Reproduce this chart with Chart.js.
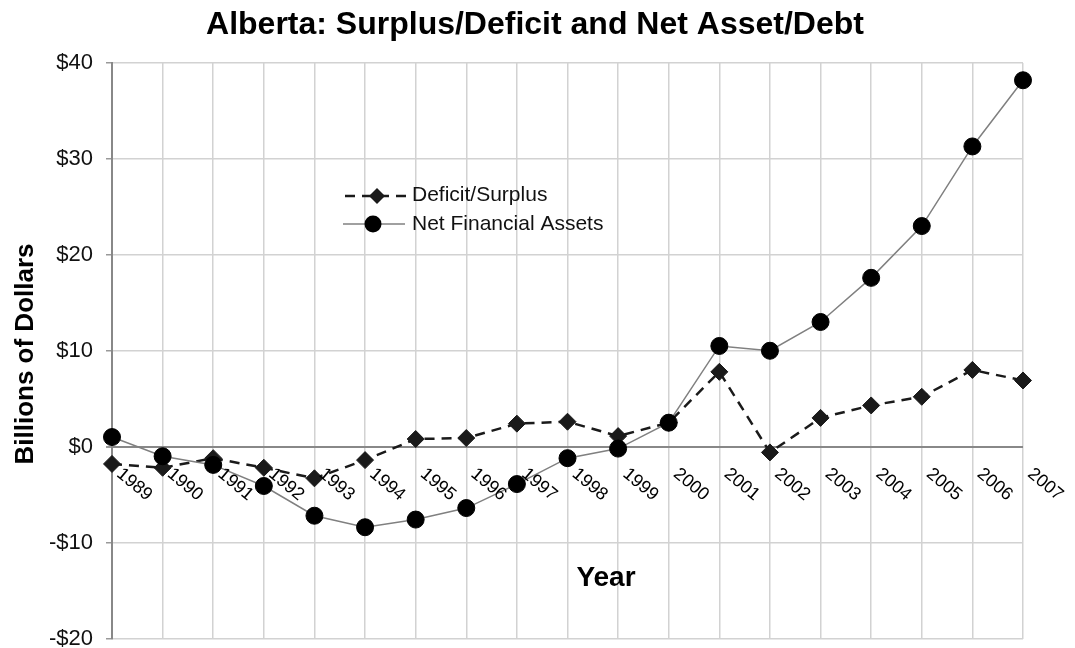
<!DOCTYPE html>
<html><head><meta charset="utf-8">
<script src="https://cdn.jsdelivr.net/npm/chart.js@4/dist/chart.umd.min.js"></script>
<style>html,body{margin:0;padding:0;background:#fff;} #wrap{width:1075px;height:648px;position:relative;}</style>
</head><body><div id="wrap"><canvas id="c"></canvas></div>
<script>
const years = ['1989','1990','1991','1992','1993','1994','1995','1996','1997','1998','1999','2000','2001','2002','2003','2004','2005','2006','2007'];
const deficitSurplus = [-1.8, -2.2, -1.2, -2.2, -3.3, -1.4, 0.8, 0.9, 2.4, 2.6, 1.1, 2.5, 7.8, -0.6, 3.0, 4.3, 5.2, 8.0, 6.9];
const netFinancialAssets = [1.0, -1.0, -1.9, -4.1, -7.2, -8.4, -7.6, -6.4, -3.9, -1.2, -0.2, 2.5, 10.5, 10.0, 13.0, 17.6, 23.0, 31.3, 38.2];
const yTickValues = [-20, -10, 0, 10, 20, 30, 40];
const yTickLabels = ['-$20', '-$10', '$0', '$10', '$20', '$30', '$40'];
const titleText = 'Alberta: Surplus/Deficit and Net Asset/Debt';
const yAxisTitle = 'Billions of Dollars';
const xAxisTitle = 'Year';
const legendLabels = ['Deficit/Surplus', 'Net Financial Assets'];

const FONT = "'Liberation Sans', Arial, Helvetica, sans-serif";

function diamond(ctx, x, y, r, fill) {
  ctx.beginPath();
  ctx.moveTo(x - r, y); ctx.lineTo(x, y - r); ctx.lineTo(x + r, y); ctx.lineTo(x, y + r);
  ctx.closePath(); ctx.fillStyle = fill; ctx.fill();
}

const textPlugin = {
  id: 'texts',
  afterDraw(chart) {
    const ctx = chart.ctx;
    const xs = chart.scales.x, ys = chart.scales.y;
    ctx.save();
    ctx.fillStyle = '#000';
    // title
    ctx.font = 'bold 32px ' + FONT;
    ctx.textAlign = 'center'; ctx.textBaseline = 'alphabetic';
    ctx.fillText(titleText, 535, 34);
    // y axis title
    ctx.save();
    ctx.translate(33, 354);
    ctx.rotate(-Math.PI / 2);
    ctx.font = 'bold 26px ' + FONT;
    ctx.textAlign = 'center';
    ctx.fillText(yAxisTitle, 0, 0);
    ctx.restore();
    // x axis title
    ctx.font = 'bold 28px ' + FONT;
    ctx.textAlign = 'center';
    ctx.fillText(xAxisTitle, 606, 586);
    // rotated category labels at zero line
    const y0 = ys.getPixelForValue(0);
    ctx.font = '18px ' + FONT;
    ctx.textAlign = 'left'; ctx.textBaseline = 'middle';
    ctx.fillStyle = '#000';
    years.forEach((yr, i) => {
      const x = xs.getPixelForValue(i);
      ctx.save();
      ctx.translate(x + 7, y0 + 25);
      ctx.rotate(40 * Math.PI / 180);
      ctx.fillText(yr, 0, 0);
      ctx.restore();
    });
    // legend
    ctx.textBaseline = 'middle';
    ctx.font = '21px ' + FONT;
    // row 1
    ctx.save();
    ctx.strokeStyle = '#1a1a1a'; ctx.lineWidth = 2.5; ctx.setLineDash([10, 7]);
    ctx.beginPath(); ctx.moveTo(345, 196); ctx.lineTo(406, 196); ctx.stroke();
    ctx.restore();
    diamond(ctx, 377, 196, 8, '#1a1a1a');
    ctx.fillStyle = '#111';
    ctx.fillText(legendLabels[0], 412, 195);
    // row 2
    ctx.strokeStyle = '#808080'; ctx.lineWidth = 1.5;
    ctx.beginPath(); ctx.moveTo(343, 224); ctx.lineTo(405, 224); ctx.stroke();
    ctx.beginPath(); ctx.arc(373, 224, 8.5, 0, Math.PI * 2); ctx.fillStyle = '#000'; ctx.fill();
    ctx.fillStyle = '#111';
    ctx.fillText(legendLabels[1], 412, 224);
    ctx.restore();
  }
};

new Chart(document.getElementById('c'), {
  type: 'line',
  data: {
    labels: years,
    datasets: [
      {
        label: legendLabels[1],
        data: netFinancialAssets,
        borderColor: '#808080',
        borderWidth: 1.5,
        pointStyle: 'circle',
        pointRadius: 8.5,
        pointBorderWidth: 1,
        pointBackgroundColor: '#000',
        pointBorderColor: '#000',
        tension: 0,
        fill: false
      },
      {
        label: legendLabels[0],
        data: deficitSurplus,
        borderColor: '#1a1a1a',
        borderWidth: 2.5,
        borderDash: [10, 7],
        pointStyle: 'rectRot',
        pointRadius: 8.5,
        pointBorderWidth: 1,
        pointBackgroundColor: '#1a1a1a',
        pointBorderColor: '#1a1a1a',
        tension: 0,
        fill: false
      }
    ]
  },
  options: {
    responsive: true,
    maintainAspectRatio: false,
    animation: false,
    layout: { padding: { top: 63, right: 52, bottom: 7, left: 0 } },
    plugins: { legend: { display: false }, title: { display: false }, tooltip: { enabled: false } },
    scales: {
      x: {
        type: 'category',
        offset: false,
        ticks: { display: false },
        border: { display: false },
        grid: {
          drawTicks: false,
          color: (c) => c.index === 0 ? '#888' : '#d2d2d2',
          lineWidth: (c) => c.index === 0 ? 2 : 1.5
        },
        afterFit: (s) => { s.height = 0; s.paddingLeft = 0; s.paddingRight = 0; }
      },
      y: {
        min: yTickValues[0],
        max: yTickValues[yTickValues.length - 1],
        afterBuildTicks: (s) => { s.ticks = yTickValues.map(v => ({ value: v })); },
        afterFit: (s) => { s.width = 112; s.paddingTop = 0; s.paddingBottom = 0; },
        border: { display: true, color: '#888', width: 2 },
        grid: {
          color: (c) => (c.tick && c.tick.value === 0) ? '#888' : '#d2d2d2',
          lineWidth: (c) => (c.tick && c.tick.value === 0) ? 2 : 1.5,
          tickLength: 6,
          tickColor: '#999'
        },
        ticks: {
          padding: 13,
          color: '#111',
          font: { family: FONT, size: 22 },
          callback: (v) => { const i = yTickValues.indexOf(v); return i >= 0 ? yTickLabels[i] : ''; }
        }
      }
    }
  },
  plugins: [textPlugin]
});
</script>
</body></html>
